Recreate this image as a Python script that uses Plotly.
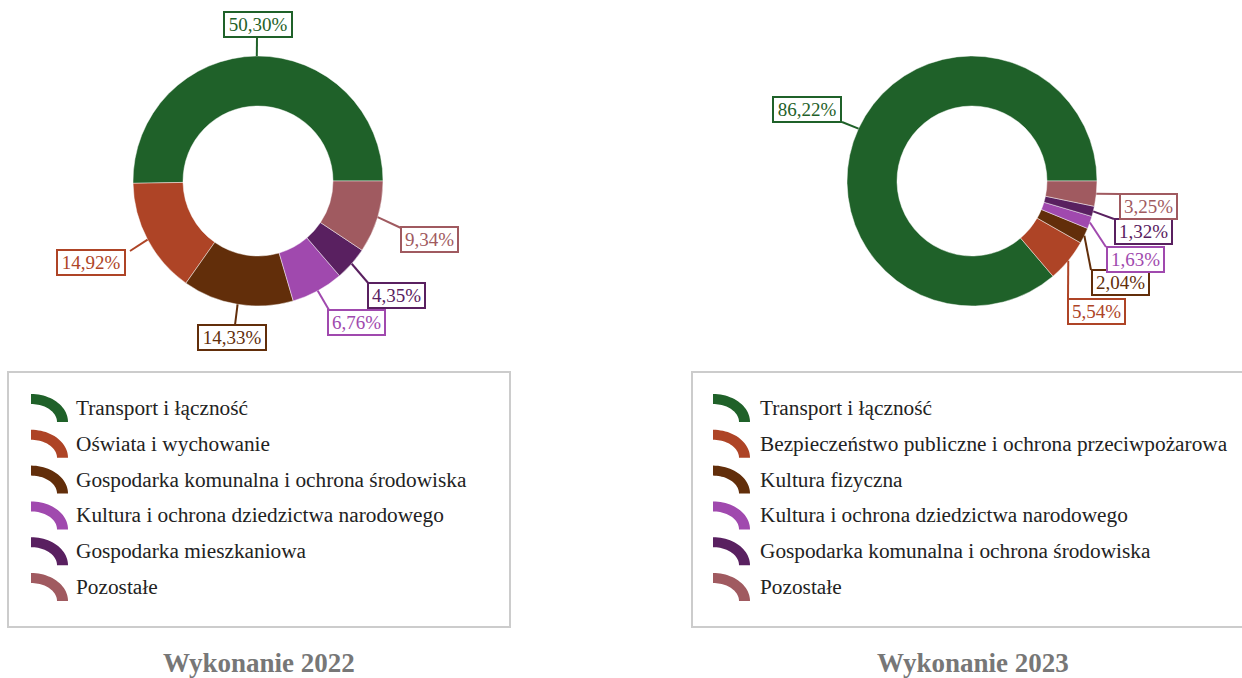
import numpy as np
import plotly.graph_objects as go

W, H = 1242, 678
FONT = "Liberation Serif"

# slice colours, shared by both years (in slice order)
colors = ["#1f6129", "#ae4426", "#622e0a", "#a049ae", "#592060", "#a05a60"]

cats_2022 = [
    "Transport i łączność",
    "Oświata i wychowanie",
    "Gospodarka komunalna i ochrona środowiska",
    "Kultura i ochrona dziedzictwa narodowego",
    "Gospodarka mieszkaniowa",
    "Pozostałe",
]
vals_2022 = [50.30, 14.92, 14.33, 6.76, 4.35, 9.34]

cats_2023 = [
    "Transport i łączność",
    "Bezpieczeństwo publiczne i ochrona przeciwpożarowa",
    "Kultura fizyczna",
    "Kultura i ochrona dziedzictwa narodowego",
    "Gospodarka komunalna i ochrona środowiska",
    "Pozostałe",
]
vals_2023 = [86.22, 5.54, 2.04, 1.63, 1.32, 3.25]

titles = ["Wykonanie 2022", "Wykonanie 2023"]

# layout of each panel in pixels: donut centre, outer radius, legend box, label boxes
R = 125
HOLE = 0.6
panels = [
    dict(cats=cats_2022, vals=vals_2022, title=titles[0], cx=258, cy=181,
         legend_box=(8, 372, 510, 627), icon_x=31, text_x=74, title_x=259,
         # (box centre x, box centre y, leader end x, leader end y)
         labels=[(257.5, 24.5, 257, 37), (91, 262.5, 130, 251), (232, 337.5, 235, 325),
                 (356, 322.5, 329, 310), (397, 295.5, 369, 284), (429, 239.5, 401, 228)]),
    dict(cats=cats_2023, vals=vals_2023, title=titles[1], cx=972, cy=181,
         legend_box=(692, 372, 1252, 627), icon_x=713, text_x=758, title_x=973,
         labels=[(807, 109.5, 842, 122), (1096, 311.5, 1068, 298), (1120, 283, 1091, 270),
                 (1135, 259.5, 1106, 247), (1143, 231.5, 1114, 219), (1148, 206.5, 1119, 194)]),
]


def px(x):
    return x / W


def py(y):
    return 1 - y / H


def fmt(v):
    return f"{v:.2f}".replace(".", ",") + "%"


fig = go.Figure()
shapes, annotations = [], []

for p in panels:
    cx, cy = p["cx"], p["cy"]
    total = sum(p["vals"])
    # counterclockwise pies place the first slice clockwise of `rotation`;
    # shift so the first slice begins at 3 o'clock and runs over the top
    rot = 90 - p["vals"][0] / total * 360
    fig.add_trace(go.Pie(
        labels=p["cats"], values=p["vals"],
        marker=dict(colors=colors, line=dict(color="rgba(255,255,255,0.45)", width=1)),
        hole=HOLE, sort=False, direction="counterclockwise", rotation=rot,
        textinfo="none", hoverinfo="label+percent", showlegend=False,
        domain=dict(x=[px(cx - R), px(cx + R)], y=[py(cy + R), py(cy - R)]),
    ))

    # leader lines start at the middle of each slice on the outer edge
    start = 0.0
    for v, col, (bx, by, ex, ey) in zip(p["vals"], colors, p["labels"]):
        mid = np.deg2rad((start + v / 2) / total * 360)
        start += v
        hx, hy = cx + R * np.cos(mid), cy - R * np.sin(mid)
        shapes.append(dict(type="path", xref="paper", yref="paper",
                           path=f"M {px(hx)},{py(hy)} L {px(ex)},{py(ey)}",
                           line=dict(color=col, width=2)))
        txt = fmt(v)
        annotations.append(dict(
            text=txt, x=px(bx), y=py(by), xref="paper", yref="paper",
            xanchor="center", yanchor="middle", showarrow=False,
            width=64 if len(txt) > 5 else 53, height=21,
            bgcolor="white", bordercolor=col, borderwidth=2, borderpad=1,
            font=dict(family=FONT, size=19, color=col),
        ))

    # legend frame
    x0, y0, x1, y1 = p["legend_box"]
    shapes.append(dict(type="rect", xref="paper", yref="paper",
                       x0=px(x0), x1=px(x1), y0=py(y1), y1=py(y0),
                       line=dict(color="#cccccc", width=2), fillcolor="rgba(0,0,0,0)"))

    # legend rows: quarter-ring swatch + category name
    t = np.linspace(0, np.pi / 2, 24)
    for i, (cat, col) in enumerate(zip(p["cats"], colors)):
        rc = 408 + i * 35.8
        ox, oy = p["icon_x"], rc + 14
        outer = [(ox + 37 * np.cos(a), oy - 28 * np.sin(a)) for a in t[::-1]]
        inner = [(ox + 26 * np.cos(a), oy - 18 * np.sin(a)) for a in t]
        pts = outer + inner
        path = "M " + " L ".join(f"{px(a)},{py(b)}" for a, b in pts) + " Z"
        shapes.append(dict(type="path", xref="paper", yref="paper", path=path,
                           fillcolor=col, line=dict(width=0)))
        annotations.append(dict(
            text=cat, x=px(p["text_x"]), y=py(rc), xref="paper", yref="paper",
            xanchor="left", yanchor="middle", showarrow=False,
            font=dict(family=FONT, size=21.3, color="#222222"),
        ))

    annotations.append(dict(
        text=f"<b>{p['title']}</b>", x=px(p["title_x"]), y=py(663),
        xref="paper", yref="paper", xanchor="center", yanchor="middle",
        showarrow=False, font=dict(family=FONT, size=27, color="#777777"),
    ))

fig.update_layout(
    width=W, height=H, margin=dict(l=0, r=0, t=0, b=0),
    paper_bgcolor="white", plot_bgcolor="white",
    shapes=shapes, annotations=annotations, showlegend=False,
)

fig.write_html("out.html")
